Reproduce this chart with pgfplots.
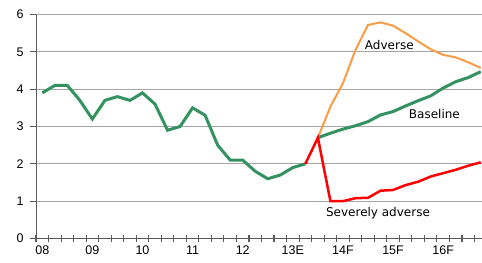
\documentclass[border=0pt]{standalone}
\usepackage{fontspec}
\setmainfont{Liberation Sans}
\newfontfamily\dejavu{DejaVu Sans}
\usepackage{pgfplots}
\pgfplotsset{compat=1.18}
\definecolor{hgreen}{RGB}{52,146,96}
\definecolor{horange}{RGB}{250,155,70}
\definecolor{hred}{RGB}{255,0,0}
\definecolor{axgray}{RGB}{90,90,90}
\definecolor{grgray}{RGB}{165,165,165}
\begin{document}
\begin{tikzpicture}
\begin{axis}[
  scale only axis, width=446bp, height=224bp,
  xmin=-0.5, xmax=35.1, ymin=0, ymax=6,
  axis x line*=bottom, axis y line*=left,
  axis line style={-, axgray, line width=1bp},
  xtick={0,4,...,32},
  xticklabels={08,09,10,11,12,13E,14F,15F,16F},
  ytick={0,1,...,6},
  major tick length=0pt,
  ymajorgrids, grid style={grgray, line width=1bp},
  tick label style={font=\fontsize{12.5bp}{14bp}\selectfont, text=black},
  /pgf/number format/assume math mode=true,
  yticklabel style={xshift=-9bp},
  xticklabel style={yshift=-4bp},
  clip=false,
]
\pgfplotsinvokeforeach{-0.5,0.5,...,34.5}{
  \draw[axgray, line width=1.1bp] (axis cs:#1,0) ++(0pt,-3.5bp) -- ++(0pt,7bp);
}
\pgfplotsinvokeforeach{0,1,...,6}{
  \draw[axgray, line width=1.1bp] (axis cs:-0.5,#1) -- ++(-6bp,0pt);
}
\addplot[hgreen, line width=3bp] coordinates {
(0,3.9)(1,4.1)(2,4.1)(3,3.7)(4,3.2)(5,3.7)(6,3.8)(7,3.7)(8,3.9)(9,3.6)
(10,2.9)(11,3.0)(12,3.5)(13,3.3)(14,2.5)(15,2.1)(16,2.1)(17,1.8)(18,1.6)
(19,1.7)(20,1.9)(21,2.0)};
\addplot[hgreen, line width=3bp] coordinates {
(22,2.7)(23,2.82)(24,2.93)(25,3.02)(26,3.13)(27,3.31)(28,3.4)(29,3.55)
(30,3.69)(31,3.82)(32,4.03)(33,4.2)(34,4.31)(35,4.47)};
\addplot[horange, line width=2bp] coordinates {
(22,2.7)(23,3.53)(24,4.16)(25,5.05)(26,5.72)(27,5.79)(28,5.7)(29,5.5)
(30,5.28)(31,5.07)(32,4.92)(33,4.85)(34,4.72)(35,4.57)};
\addplot[hred, line width=2.5bp] coordinates {
(21,2.0)(22,2.7)(23,1.0)(24,1.0)(25,1.08)(26,1.09)(27,1.28)(28,1.3)(29,1.43)
(30,1.52)(31,1.66)(32,1.75)(33,1.84)(34,1.95)(35,2.04)};
\node[font=\dejavu\fontsize{12bp}{14bp}\selectfont, inner sep=0pt] at (axis cs:27.7,5.19) {Adverse};
\node[font=\dejavu\fontsize{12bp}{14bp}\selectfont, inner sep=0pt] at (axis cs:31.3,3.33) {Baseline};
\node[font=\dejavu\fontsize{12bp}{14bp}\selectfont, inner sep=0pt] at (axis cs:26.8,0.67) {Severely adverse};
\end{axis}
\pgfresetboundingbox
\path[use as bounding box] ([xshift=-36bp,yshift=-24.5bp]current axis.south west) rectangle ([yshift=14.5bp]current axis.north east);
\end{tikzpicture}
\end{document}
